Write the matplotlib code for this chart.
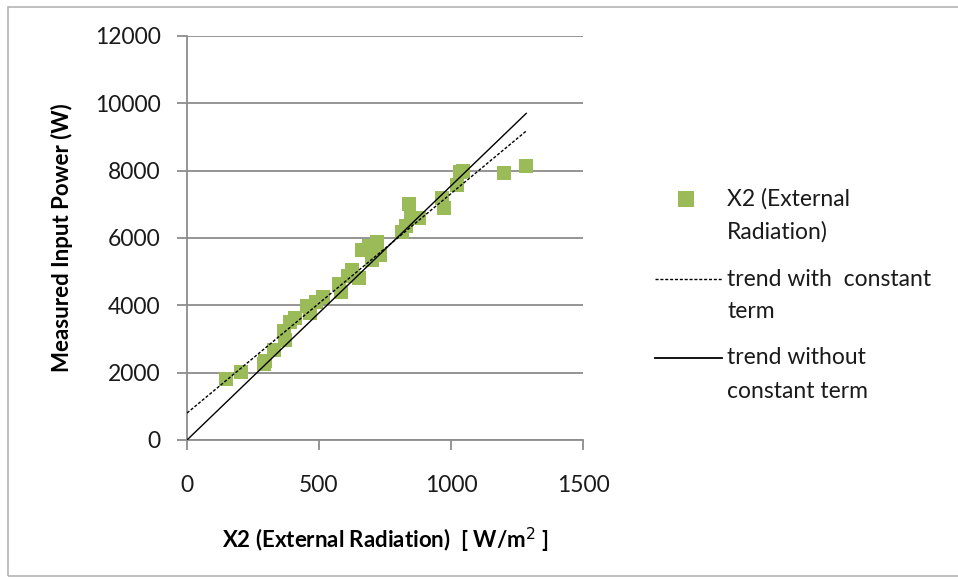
import numpy as np
import matplotlib.pyplot as plt
from matplotlib.lines import Line2D
from matplotlib.patches import Rectangle

plt.rcParams['font.family'] = ['Lato', 'DejaVu Sans']

# measured points
radiation = [148, 205, 290, 295, 330, 367, 371, 390, 409, 455, 466, 490, 515, 576, 585,
             610, 625, 650, 663, 690, 700, 720, 730, 815, 830, 841, 848, 880, 966, 975,
             1023, 1035, 1045, 1200, 1285]
power = [1800, 2020, 2250, 2350, 2670, 3230, 2970, 3500, 3620, 3980, 3770, 4100, 4240, 4630, 4400,
         4870, 5040, 4800, 5640, 5750, 5340, 5870, 5500, 6170, 6350, 7000, 6590, 6600, 7180, 6900,
         7570, 7950, 8000, 7920, 8130]

# trend lines
const_slope, const_icpt = 6.52, 800.0
noconst_slope = 7.55

x_ticks = [0, 500, 1000, 1500]
y_ticks = [0, 2000, 4000, 6000, 8000, 10000, 12000]

W, H = 958, 580
fig = plt.figure(figsize=(W / 100, H / 100), dpi=100)
fig.patches.append(Rectangle((8 / W, 4 / H), 1.0, 1 - 11 / H, transform=fig.transFigure,
                             fill=False, edgecolor='#b4b4b4', linewidth=1.2))
ax = fig.add_axes([187 / W, 1 - 440 / H, (583 - 187) / W, (440 - 36) / H])

x = np.array(radiation)
xl = np.array([0, x.max()])
dash = (0, (2.2, 1.3))

ax.scatter(x, power, marker='s', s=110, color='#9BBB59', linewidths=0, zorder=2)
ax.plot(xl, const_icpt + const_slope * xl, color='black', lw=1, ls=dash, zorder=3)
ax.plot(xl, noconst_slope * xl, color='black', lw=1, zorder=3)

ax.set_xlim(0, 1500)
ax.set_ylim(0, 12000)
ax.set_xticks(x_ticks)
ax.set_yticks(y_ticks)
ax.grid(axis='y', color='#8c8c8c', lw=1.3)
ax.set_axisbelow(True)
for s in ['top', 'right']:
    ax.spines[s].set_visible(False)
for s in ['left', 'bottom']:
    ax.spines[s].set_color('#8c8c8c')
    ax.spines[s].set_linewidth(1.3)
ax.tick_params(colors='#8c8c8c', labelcolor='#1a1a1a', labelsize=16.5, length=7, width=1.3, pad=12)
ax.tick_params(axis='x', pad=18)

ax.set_ylabel('Measured Input Power (W)', fontsize=16, fontweight='bold', labelpad=16)
ax.set_xlabel('X2 (External Radiation)  [ W/m$^2$ ]', fontsize=16, fontweight='bold', labelpad=22)

# legend drawn by hand so the key sits on the first text line (Excel style)
def px(xp, yp):
    return xp / W, 1 - yp / H

lab_fs = 16.5
fig.add_artist(Line2D(*zip(px(686, 199)), marker='s', color='#9BBB59', markersize=11,
                       markeredgewidth=0, transform=fig.transFigure))
fig.add_artist(Line2D(*zip(px(655, 279), px(722, 279)), color='black', lw=1, ls=dash,
                       transform=fig.transFigure))
fig.add_artist(Line2D(*zip(px(655, 358), px(722, 358)), color='black', lw=1.3,
                       transform=fig.transFigure))
labels = [('X2 (External', 199), ('Radiation)', 232),
          ('trend with  constant', 279), ('term', 312),
          ('trend without', 358), ('constant term', 392)]
for txt, yp in labels:
    fig.text(*px(727, yp), txt, fontsize=lab_fs, color='#1a1a1a', ha='left', va='center')

fig.savefig('out.png', dpi=100)
